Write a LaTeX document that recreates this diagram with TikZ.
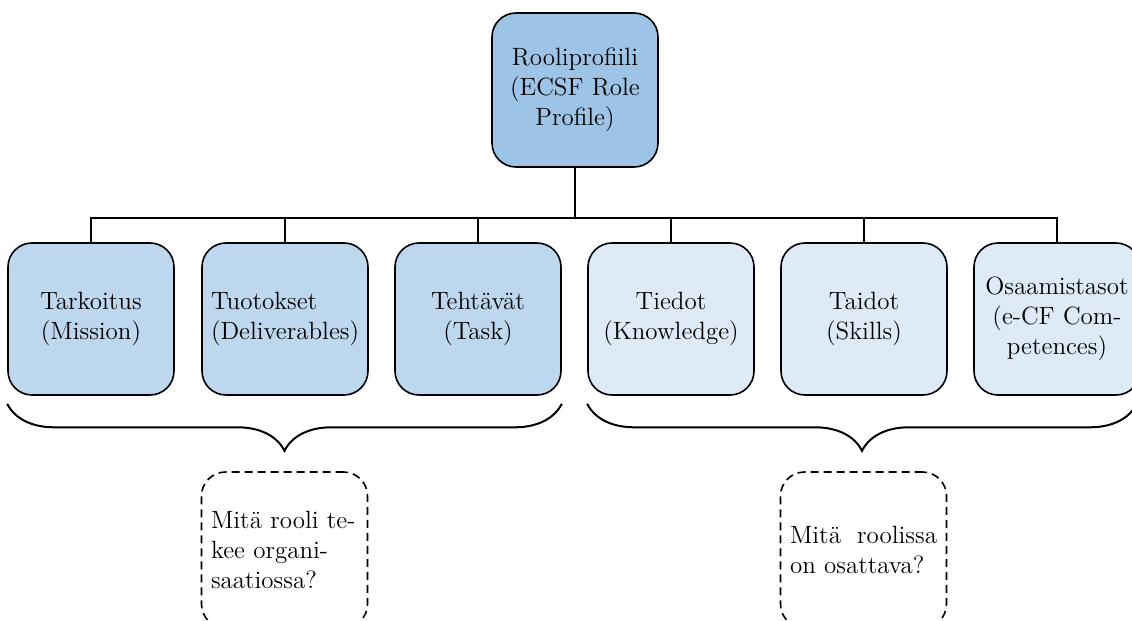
\documentclass[tikz,border=0pt]{standalone}
\usetikzlibrary{decorations.pathreplacing}
\definecolor{topblue}{HTML}{9DC3E6}
\definecolor{midblue}{HTML}{BDD7EE}
\definecolor{paleblue}{HTML}{DEEBF7}
\newcommand{\txt}{\fontsize{12.5}{15}\selectfont}
\tikzset{
  box/.style={draw, line width=0.8pt, rounded corners=12pt, minimum width=83pt,
    minimum height=76pt, inner xsep=4.5pt, text width=74pt, align=center, font=\txt},
  qbox/.style={draw, line width=0.8pt, dash pattern=on 4pt off 2.5pt, rounded corners=12pt,
    minimum width=83pt, minimum height=78pt, inner xsep=4.75pt, text width=73.5pt,
    align=left, font=\txt},
  line/.style={line width=1.1pt},
  bracket/.style={line width=1pt, decorate, decoration={brace, amplitude=23.5pt}}
}

\begin{document}
\begin{tikzpicture}[x=0.5pt, y=-0.5pt]
\useasboundingbox (0,0) rectangle (1132,621);
\clip (0,0) rectangle (1132,621);

\node (rooli) at (575,90) [box, fill=topblue, minimum width=82pt, minimum height=77pt] {Rooliprofiili (ECSF Role Profile)};

\node (tarkoitus) at (91,319) [box, fill=midblue] {Tarkoitus\\(Mission)};
\node (tuotokset) at (285,319) [box, fill=midblue, align=left] {Tuotokset\\(Deliverables)};
\node (tehtavat) at (478,319) [box, fill=midblue] {Tehtävät\\(Task)};
\node (tiedot) at (671,319) [box, fill=paleblue] {Tiedot\\(Knowledge)};
\node (taidot) at (864,319) [box, fill=paleblue] {Taidot\\(Skills)};
\node (osaamis) at (1057,319) [box, fill=paleblue] {Osaamistasot\\(e-CF Com-\\petences)};

% connectors
\coordinate (bar) at (575,218);
\draw [line] (rooli.south) -- (bar);
\draw [line] (tarkoitus.north) -- (tarkoitus |- bar) -- (osaamis |- bar) -- (osaamis.north);
\foreach \n in {tuotokset, tehtavat, tiedot, taidot}
  \draw [line] (\n.north) -- (\n |- bar);

% braces
\coordinate (vasenA) at ([yshift=-4pt]tarkoitus.south west);
\coordinate (vasenB) at ([yshift=-4pt]tehtavat.south east);
\coordinate (oikeaA) at ([yshift=-4pt]tiedot.south west);
\coordinate (oikeaB) at ([yshift=-4pt, xshift=-2pt]osaamis.south east);
\draw [bracket] (vasenB) -- (vasenA);
\draw [bracket] (oikeaB) -- (oikeaA);

\node (kysymys1) at (284.5,550) [qbox] {Mitä rooli te-\\kee organi-\\saatiossa?};
\node (kysymys2) at (863.5,550) [qbox] {Mitä\hfill roolissa\\on osattava?};
\end{tikzpicture}
\end{document}
